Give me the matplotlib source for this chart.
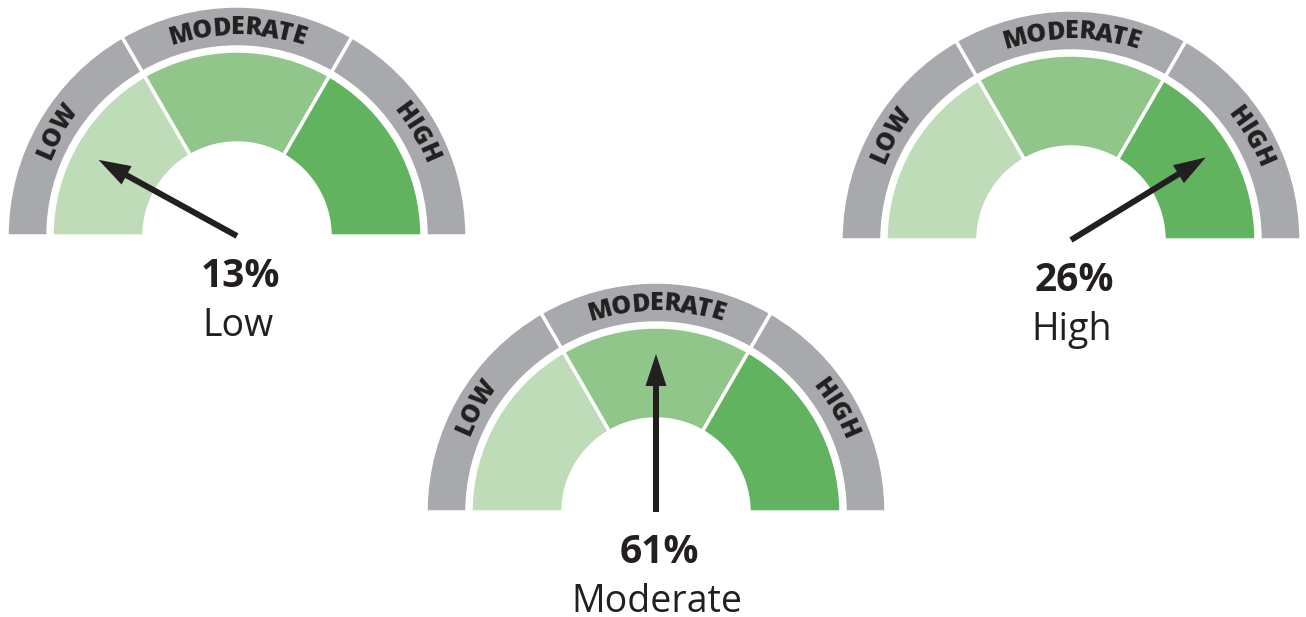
import numpy as np
import matplotlib.pyplot as plt
from matplotlib.patches import Wedge, FancyArrow
from matplotlib.font_manager import FontProperties
from matplotlib.textpath import TextToPath

# Dial zones
zones = ["LOW", "MODERATE", "HIGH"]
zone_colors = ["#bedcb7", "#90c68a", "#62b35f"]
ring_color = "#a7a9ac"

# One gauge per answer
percents = [13, 61, 26]
answers = ["Low", "Moderate", "High"]
needle_values = [16, 50, 82.5]  # needle position on a 0-100 dial scale

W, H = 1306, 617
DPI = 100
centers = [(237, 236), (656, 512), (1071, 240)]  # pixels from top-left

fig = plt.figure(figsize=(W / DPI, H / DPI), dpi=DPI)
ax = fig.add_axes([0, 0, 1, 1])
ax.set_xlim(0, W)
ax.set_ylim(0, H)
ax.axis("off")

arc_font = FontProperties(family="Open Sans", weight=800, size=18)
ttp = TextToPath()


def text_w(s):
    # width in pixels
    return ttp.get_text_width_height_descent(s, arc_font, ismath=False)[0] * DPI / 72


def arc_text(cx, cy, r, mid_deg, s):
    total = text_w(s)
    for k, ch in enumerate(s):
        c = text_w(s[:k + 1]) - text_w(ch) / 2 - total / 2
        th = mid_deg - np.degrees(c / r)
        x = cx + r * np.cos(np.radians(th))
        y = cy + r * np.sin(np.radians(th))
        ax.text(x, y, ch, fontproperties=arc_font, color="#231f20",
                rotation=th - 90, rotation_mode="anchor",
                ha="center", va="center")


for (px, py), pct, ans, val in zip(centers, percents, answers, needle_values):
    cx, cy = px, H - py
    for i, (name, col) in enumerate(zip(zones, zone_colors)):
        t1 = 180 - (i + 1) * 60
        t2 = 180 - i * 60
        ax.add_patch(Wedge((cx, cy), 230, t1, t2, width=41, fc=ring_color,
                           ec="white", lw=2.5))
        ax.add_patch(Wedge((cx, cy), 185, t1, t2, width=92, fc=col,
                           ec="white", lw=2.5))
        arc_text(cx, cy, 208, (t1 + t2) / 2, name)

    # needle
    ang = np.radians(180 - val / 100 * 180)
    L = 158
    ax.add_patch(FancyArrow(cx, cy, L * np.cos(ang), L * np.sin(ang),
                            width=6, head_width=21, head_length=32,
                            length_includes_head=True, fc="#231f20", ec="none"))

    ax.text(cx + 3, cy - 51, f"{pct}%", family="Open Sans", weight="bold",
            fontsize=28, color="#231f20", ha="center", va="baseline")
    ax.text(cx + 1, cy - 100, ans, family="Open Sans", fontsize=27,
            color="#231f20", ha="center", va="baseline")

fig.savefig("out.png", dpi=DPI)
